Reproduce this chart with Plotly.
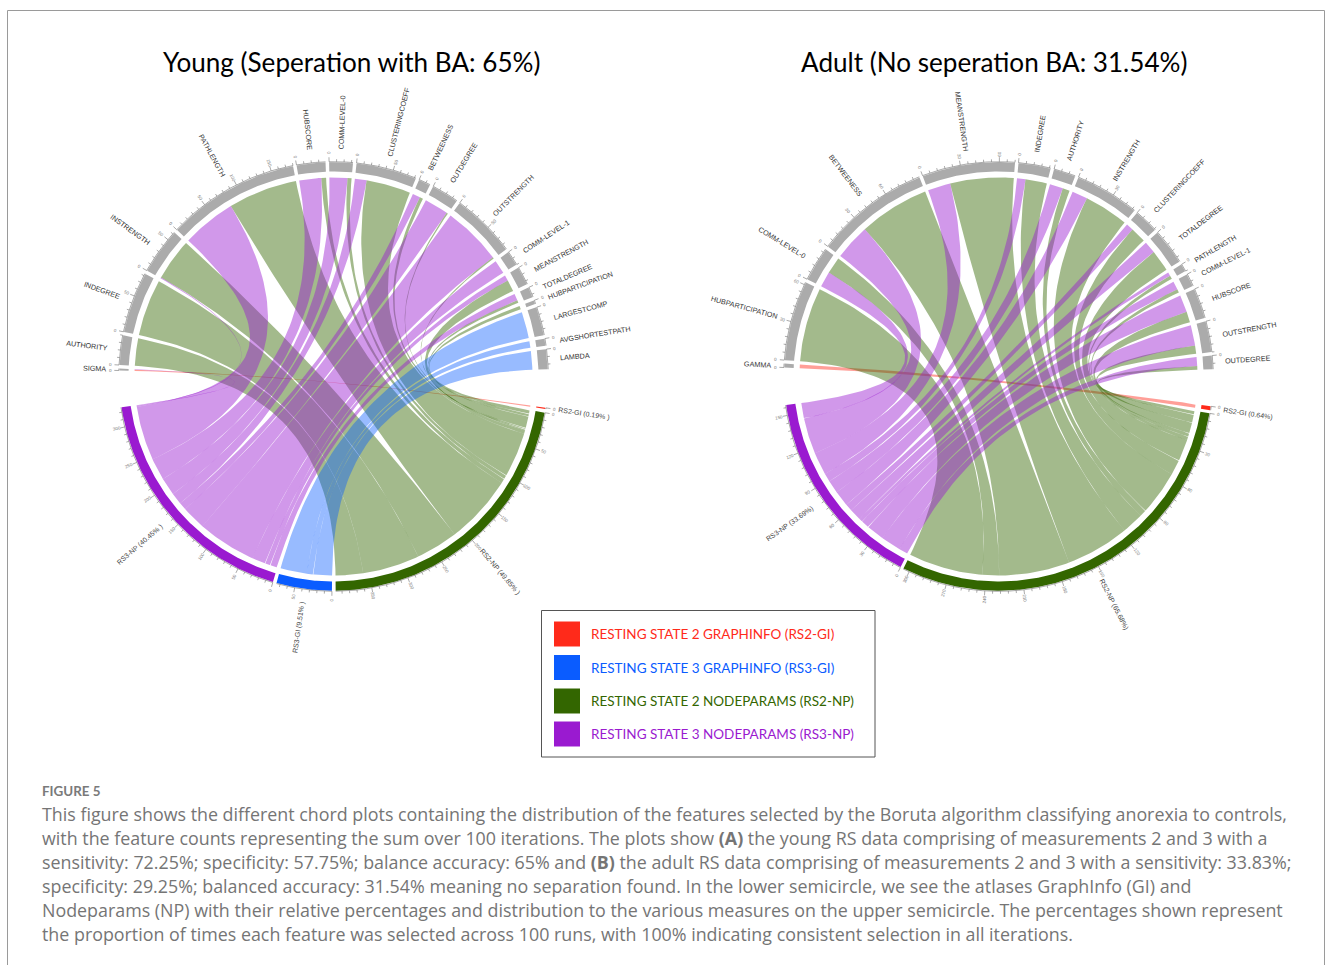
import numpy as np
import plotly.graph_objects as go

# ---------- data ----------
young_features = ["SIGMA","AUTHORITY","INDEGREE","INSTRENGTH","PATHLENGTH","HUBSCORE","COMM-LEVEL-0",
                  "CLUSTERINGCOEFF","BETWEENESS","OUTDEGREE","OUTSTRENGTH","COMM-LEVEL-1","MEANSTRENGTH",
                  "TOTALDEGREE","HUBPARTICIPATION","LARGESTCOMP","AVGSHORTESTPATH","LAMBDA"]
young_rs2gi = [1.6,0,0,0,0,0,0,0,0,0,0,0,0,0,0,0,0,0]
young_rs3np = [1,0,0,1.5,79,32,26,17,11,35,86,20,8,10,0,0,0,0]
young_rs2np = [0,40,83,61.5,101,7,6,65,5,2,2,0,17,4,5,0,0,0]
young_rs3gi = [0,0,0,0,0,0,0,0,0,0,0,0,0,0,0,38.5,9.5,27]
young_sources = ["RS2-GI (0.19% )","RS2-NP (49.85% )","RS3-GI (9.51% )","RS3-NP (40.45% )"]

adult_features = ["GAMMA","HUBPARTICIPATION","COMM-LEVEL-0","BETWEENESS","MEANSTRENGTH","INDEGREE","AUTHORITY",
                  "INSTRENGTH","CLUSTERINGCOEFF","TOTALDEGREE","PATHLENGTH","COMM-LEVEL-1","HUBSCORE",
                  "OUTSTRENGTH","OUTDEGREE"]
adult_rs2gi = [3,0,0,0,0,0,0,0,0,0,0,0,0,0,0]
adult_rs3np = [0,0,13,30,19,7,11,13,6,10,3,7,14.5,17,7.5]
adult_rs2np = [0,62,14,59,53,18,6,37,13,18,3,3,9,7,3]
adult_sources = ["RS2-GI (0.64%)","RS2-NP (65.68%)","RS3-NP (33.69%)"]

titles = ["Young (Seperation with BA: 65%)","Adult (No seperation BA: 31.54%)"]
legend_labels = ["RESTING STATE 2 GRAPHINFO (RS2-GI)","RESTING STATE 3 GRAPHINFO (RS3-GI)",
                 "RESTING STATE 2 NODEPARAMS (RS2-NP)","RESTING STATE 3 NODEPARAMS (RS3-NP)"]
caption_head = "FIGURE 5"
caption_lines = [
 "This figure shows the different chord plots containing the distribution of the features selected by the Boruta algorithm classifying anorexia to controls,",
 "with the feature counts representing the sum over 100 iterations. The plots show <b>(A)</b> the young RS data comprising of measurements 2 and 3 with a",
 "sensitivity: 72.25%; specificity: 57.75%; balance accuracy: 65% and <b>(B)</b> the adult RS data comprising of measurements 2 and 3 with a sensitivity: 33.83%;",
 "specificity: 29.25%; balanced accuracy: 31.54% meaning no separation found. In the lower semicircle, we see the atlases GraphInfo (GI) and",
 "Nodeparams (NP) with their relative percentages and distribution to the various measures on the upper semicircle. The percentages shown represent",
 "the proportion of times each feature was selected across 100 runs, with 100% indicating consistent selection in all iterations."]

# ---------- styles / geometry ----------
RED, BLUE, GREEN, PURPLE = "#FF2A1A", "#0A5CFF", "#336600", "#9A1AD0"
RGB = {RED:"255,42,26", BLUE:"10,92,255", GREEN:"51,102,0", PURPLE:"154,26,208"}
GREY = "#ABABAB"
R_OUT, R_IN, R_CH = 214.2, 205, 199
CY = 376.5
WIDTHS = dict(zip("ABCDEFGHIJKLMNOPQRSTUVWXYZ",
    [667,667,722,722,667,611,778,722,278,500,667,556,833,722,778,667,778,722,667,611,722,667,944,667,667,611]))
WIDTHS.update({"-":333," ":278,"(":333,")":333,".":278,"%":889,**{d:556 for d in "0123456789"}})

fig = go.Figure()
ann = []

def pt(cx, r, deg):
    a = np.radians(deg)
    return cx + r*np.cos(a), CY - r*np.sin(a)

def ribbon(cx, a0, a1, b0, b1, color, alpha):
    ta = np.linspace(a0, a1, 24); tb = np.linspace(b0, b1, 24)
    xa, ya = pt(cx, R_CH, ta); xb, yb = pt(cx, R_CH, tb)
    t = np.linspace(0, 1, 60)
    def bez(p, q, c): return (1-t)**2*p + 2*t*(1-t)*c + t**2*q
    xs = [xa, bez(xa[-1], xb[0], cx), xb, bez(xb[-1], xa[0], cx)]
    ys = [ya, bez(ya[-1], yb[0], CY), yb, bez(yb[-1], ya[0], CY)]
    fig.add_trace(go.Scatter(x=np.concatenate(xs), y=np.concatenate(ys), mode="lines", fill="toself",
        fillcolor=f"rgba({RGB[color]},{alpha})", line=dict(width=0), hoverinfo="skip", showlegend=False))

def ring(cx, a0, a1, color):
    t = np.linspace(a0, a1, max(4, int(abs(a1-a0))*2+2))
    xo, yo = pt(cx, R_OUT, t); xi, yi = pt(cx, R_IN, t[::-1])
    fig.add_trace(go.Scatter(x=np.r_[xo, xi], y=np.r_[yo, yi], mode="lines", fill="toself", fillcolor=color,
        line=dict(width=0), hoverinfo="skip", showlegend=False))

def radial_text(cx, deg, r, text, size, color, centered=False):
    d = ((deg + 180) % 360) - 180
    left = abs(d) > 90
    angle = (180 - d) if left else -d
    angle = ((angle + 180) % 360) - 180
    L = 0 if centered else sum(WIDTHS.get(ch, 556) for ch in text) / 1000 * size
    x, y = pt(cx, r + L/2, deg)
    ann.append(dict(x=x, y=y, text=text, textangle=angle, showarrow=False, xanchor="center", yanchor="middle",
                    xref="x", yref="y", font=dict(family="Liberation Sans", size=size, color=color)))

def axis(cx, a0, scale, value, major, minor):
    n = int(value // minor) + 1
    xs, ys = [], []
    for i in range(n):
        v = i * minor
        deg = a0 - v * scale
        ln = 4.5 if v % major == 0 else 2.5
        x0, y0 = pt(cx, R_OUT + .6, deg); x1, y1 = pt(cx, R_OUT + .6 + ln, deg)
        xs += [x0, x1, None]; ys += [y0, y1, None]
        if v % major == 0:
            radial_text(cx, deg, R_OUT + 9, f"{int(v)}", 4.5, "#777777", centered=True)
    t = np.linspace(a0, a0 - value*scale, 30)
    ax, ay = pt(cx, R_OUT + .6, t)
    xs += list(ax) + [None]; ys += list(ay) + [None]
    fig.add_trace(go.Scatter(x=xs, y=ys, mode="lines", line=dict(width=.5, color="#555555"),
                             hoverinfo="skip", showlegend=False))

def chord(cx, features, flows, sources, src_colors, start_top, start_bottom, scale, gap_top, gap_bottom, major, minor):
    top_pos = {}
    a = start_top
    for i, name in enumerate(features):
        total = sum(f[i] for f in flows)
        end = a - total*scale
        ring(cx, a, end, GREY)
        axis(cx, a, scale, total, major, minor)
        radial_text(cx, (a+end)/2, R_OUT + 13.5, name, 7.2, "#333333")
        p = a
        for k, f in enumerate(flows):
            if f[i] > 0:
                top_pos[(i, k)] = (p, p - f[i]*scale)
                p -= f[i]*scale
        a = end - gap_top
    bot_pos = {}
    b = start_bottom
    order = sorted(range(len(flows)), key=lambda k: ["RS2-GI","RS2-NP","RS3-GI","RS3-NP"].index(sources[k][:6]))
    for k in order:
        total = sum(flows[k])
        end = b - total*scale
        ring(cx, b, end, src_colors[k])
        axis(cx, b, scale, total, major, minor)
        radial_text(cx, (b+end)/2, R_OUT + 13.5, sources[k], 7.0, "#444444")
        p = b
        for i in reversed(range(len(features))):
            if flows[k][i] > 0:
                bot_pos[(i, k)] = (p, p - flows[k][i]*scale)
                p -= flows[k][i]*scale
        b = end - gap_bottom
    for col in (RED, GREEN, PURPLE, BLUE):
        for (i, k), (a0, a1) in top_pos.items():
            if src_colors[k] == col:
                b0, b1 = bot_pos[(i, k)]
                ribbon(cx, a0, a1, b0, b1, col, .45 if col != BLUE else .42)

chord(333.5, young_features, [young_rs2gi, young_rs3np, young_rs2np, young_rs3gi],
      [young_sources[0], young_sources[3], young_sources[1], young_sources[2]],
      [RED, PURPLE, GREEN, BLUE], 178.4, -8.4, .2, .95, 1.0, 50, 10)
chord(998.5, adult_features, [adult_rs2gi, adult_rs3np, adult_rs2np],
      [adult_sources[0], adult_sources[2], adult_sources[1]],
      [RED, PURPLE, GREEN], 177.6, -8.0, .349, .93, .85, 30, 6)

# titles
for x, t in zip((351.5, 994), titles):
    ann.append(dict(x=x, y=62, text=t, showarrow=False, xanchor="center", yanchor="middle", xref="x", yref="y",
                    font=dict(family="Lato", size=26.1, color="#000000")))

# legend
shapes = [dict(type="rect", xref="x", yref="y", x0=541.5, y0=610.5, x1=875, y1=757,
               line=dict(color="#555555", width=1), fillcolor="white")]
for y, col, lab in zip((634, 667.5, 701, 734), (RED, BLUE, GREEN, PURPLE), legend_labels):
    shapes.append(dict(type="rect", xref="x", yref="y", x0=554, x1=580, y0=y-12.5, y1=y+12.5,
                       line=dict(width=0), fillcolor=col))
    ann.append(dict(x=589, y=y, text=lab, showarrow=False, xanchor="left", yanchor="middle", xref="x", yref="y",
                    font=dict(family="Lato", size=13.5, color=col)))

# frame
for (x0, y0, x1, y1) in ((7.5, 10.5, 1324.5, 10.5), (7.5, 10.5, 7.5, 965), (1324.5, 10.5, 1324.5, 965)):
    shapes.append(dict(type="line", xref="x", yref="y", x0=x0, y0=y0, x1=x1, y1=y1, line=dict(color="#9A9A9A", width=1)))

# caption
ann.append(dict(x=39.5, y=791, text=f"<b>{caption_head}</b>", showarrow=False, xanchor="left", yanchor="middle", xref="x", yref="y",
                font=dict(family="Lato", size=13.4, color="#7A7A7A")))
for y, line in zip((813.5, 837.5, 861.5, 885.5, 909.5, 933.5), caption_lines):
    ann.append(dict(x=39.5, y=y, text=line, showarrow=False, xanchor="left", yanchor="middle", xref="x", yref="y",
                    font=dict(family="Open Sans", size=17.85, color="#757575")))

fig.update_layout(width=1331, height=965, margin=dict(l=0, r=0, t=0, b=0), paper_bgcolor="white", plot_bgcolor="white",
                  xaxis=dict(range=[0, 1331], visible=False, fixedrange=True),
                  yaxis=dict(range=[965, 0], visible=False, fixedrange=True),
                  showlegend=False, shapes=shapes, annotations=ann)
fig.write_html("out.html", config={"displayModeBar": False},
               post_script="document.body.style.margin='0';document.documentElement.style.overflow='hidden';")
